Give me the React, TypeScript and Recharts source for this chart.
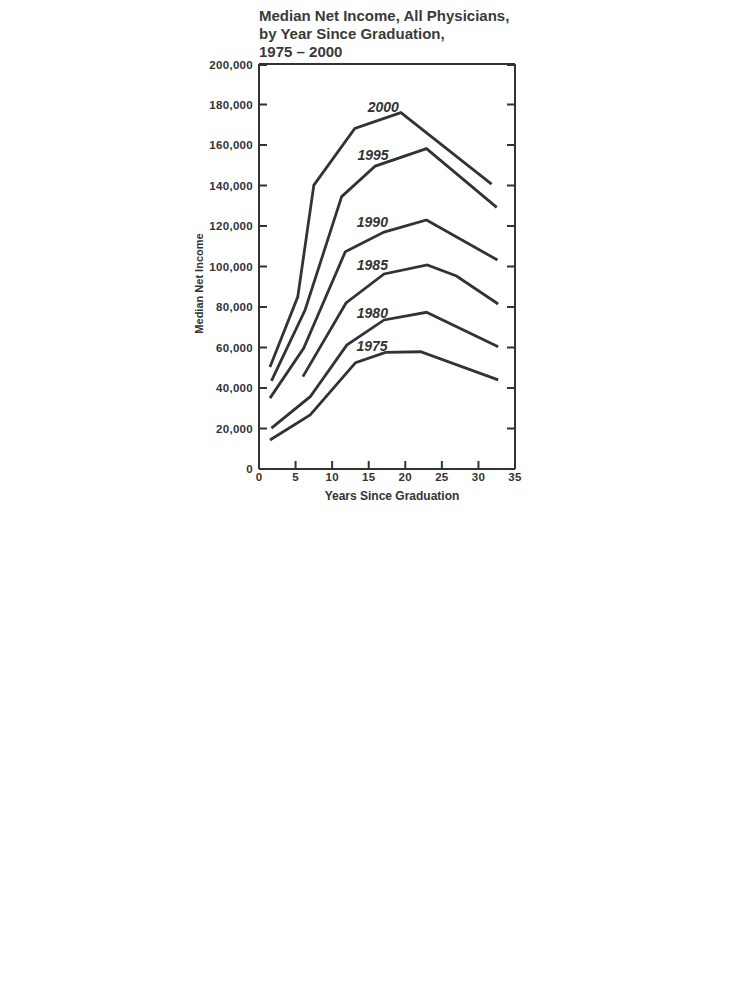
import React from 'react';
import { LineChart, Line, XAxis, YAxis, ReferenceDot, ReferenceLine } from 'recharts';

// years since graduation (x) and median net income (y), one pair of arrays per survey year
const YRS_1975 = [1.5, 7.0, 13.2, 17.3, 22.1, 32.7];
const INC_1975 = [14300, 26700, 52500, 57600, 57900, 44000];
const YRS_1980 = [1.7, 7.0, 12.0, 17.1, 22.9, 32.7];
const INC_1980 = [20200, 35700, 61200, 73600, 77400, 60400];
const YRS_1985 = [6.0, 11.9, 17.1, 23.0, 27.0, 32.7];
const INC_1985 = [45600, 82000, 96300, 100800, 95300, 81500];
const YRS_1990 = [1.5, 6.1, 11.8, 17.1, 22.9, 32.6];
const INC_1990 = [35000, 59600, 107300, 117000, 123000, 103200];
const YRS_1995 = [1.7, 6.3, 11.3, 15.9, 22.9, 32.5];
const INC_1995 = [43500, 78500, 134500, 149600, 158200, 129200];
const YRS_2000 = [1.5, 5.3, 7.5, 13.1, 19.4, 31.8];
const INC_2000 = [50400, 85000, 140200, 168200, 176000, 140700];

const SERIES_NAMES = ['1975', '1980', '1985', '1990', '1995', '2000'];
// where each series name sits on the chart (data units)
const LABEL_X = [15.45, 15.5, 15.5, 15.5, 15.6, 17.0];
const LABEL_Y = [60700, 76900, 100700, 121800, 155100, 178900];

const X_TICKS = [0, 5, 10, 15, 20, 25, 30, 35];
const Y_TICKS = [0, 20000, 40000, 60000, 80000, 100000, 120000, 140000, 160000, 180000, 200000];

const INK = '#333333';
const FONT = '"Liberation Sans", Arial, Helvetica, sans-serif';
const TICK_LEN = 8;
const PLOT_W = 256;

const zip = (xs: number[], ys: number[]) => xs.map((x, i) => ({ x, y: ys[i] }));
const SERIES = [
  zip(YRS_1975, INC_1975),
  zip(YRS_1980, INC_1980),
  zip(YRS_1985, INC_1985),
  zip(YRS_1990, INC_1990),
  zip(YRS_1995, INC_1995),
  zip(YRS_2000, INC_2000),
];

const tickText = {
  fill: INK, fontSize: 11.5, fontWeight: 700, fontFamily: FONT, letterSpacing: 0.3,
};

/* ticks point into the plot (both sides of the frame), so draw them here */
function LeftTick({ x, y, payload }: any) {
  const ax = x + 6; // left frame edge
  const rx = ax + PLOT_W; // right frame edge
  return (
    <g>
      <line x1={ax} x2={ax + TICK_LEN} y1={y} y2={y} stroke={INK} strokeWidth={2} />
      <line x1={rx} x2={rx - TICK_LEN} y1={y} y2={y} stroke={INK} strokeWidth={2} />
      <text x={x} y={y} dy="0.35em" textAnchor="end" {...tickText}>
        {payload.value.toLocaleString('en-US')}
      </text>
    </g>
  );
}

function BottomTick({ x, y, payload }: any) {
  const ay = y - 4;
  return (
    <g>
      <line x1={x} x2={x} y1={ay} y2={ay - TICK_LEN} stroke={INK} strokeWidth={2} />
      <text x={x} y={y} dy="0.71em" textAnchor="middle" {...tickText}>
        {payload.value}
      </text>
    </g>
  );
}

export default function App() {
  return (
    <div style={{ position: 'relative', width: 734, height: 520, fontFamily: FONT }}>
      <div
        style={{
          position: 'absolute', left: 251, top: -1,
          fontSize: 15, lineHeight: '18px', fontWeight: 700, color: '#3a3a3a',
        }}
      >
        Median Net Income, All Physicians,<br />
        by Year Since Graduation,<br />
        1975 – 2000
      </div>

      <div style={{ position: 'absolute', left: 172, top: 48 }}>
        <LineChart width={355} height={458} margin={{ top: 8, right: 20, bottom: 5, left: 0 }}>
          <XAxis
            xAxisId="b"
            type="number"
            dataKey="x"
            domain={[0, 35]}
            ticks={X_TICKS}
            allowDataOverflow
            stroke={INK}
            strokeWidth={2}
            tickLine={false}
            tickSize={0}
            tickMargin={4}
            tick={<BottomTick />}
            height={40}
            label={({ viewBox }: any) => (
              <text
                x={viewBox.x + viewBox.width / 2 + 5}
                y={viewBox.y + 31}
                textAnchor="middle"
                fill={INK}
                fontSize={12}
                fontWeight={700}
                fontFamily={FONT}
              >
                Years Since Graduation
              </text>
            )}
          />
          <YAxis
            yAxisId="l"
            type="number"
            domain={[0, 200000]}
            ticks={Y_TICKS}
            width={79}
            stroke={INK}
            strokeWidth={2}
            tickLine={false}
            tickSize={0}
            tickMargin={6}
            tick={<LeftTick />}
            label={({ viewBox }: any) => {
              const cx = viewBox.x + 19;
              const cy = viewBox.y + viewBox.height / 2 + 17;
              return (
                <text
                  x={cx}
                  y={cy}
                  transform={`rotate(-90 ${cx} ${cy})`}
                  textAnchor="middle"
                  dominantBaseline="central"
                  fill={INK}
                  fontSize={11}
                  fontWeight={700}
                  fontFamily={FONT}
                >
                  Median Net Income
                </text>
              );
            }}
          />

          {/* top and right edges of the frame */}
          <ReferenceLine xAxisId="b" yAxisId="l" y={200000} stroke={INK} strokeWidth={2} />
          <ReferenceLine xAxisId="b" yAxisId="l" x={35} stroke={INK} strokeWidth={2} />

          {SERIES.map((pts, i) => (
            <Line
              key={SERIES_NAMES[i]}
              xAxisId="b"
              yAxisId="l"
              data={pts}
              dataKey="y"
              type="linear"
              stroke={INK}
              strokeWidth={2.8}
              strokeLinejoin="miter"
              dot={false}
              activeDot={false}
              isAnimationActive={false}
            />
          ))}

          {SERIES_NAMES.map((name, i) => (
            <ReferenceDot
              key={`lbl-${name}`}
              xAxisId="b"
              yAxisId="l"
              x={LABEL_X[i]}
              y={LABEL_Y[i]}
              r={0}
              fill="none"
              stroke="none"
              label={{
                value: name,
                position: 'center',
                fill: INK,
                fontSize: 14,
                fontWeight: 700,
                fontStyle: 'italic',
                fontFamily: FONT,
              }}
            />
          ))}
        </LineChart>
      </div>
    </div>
  );
}
